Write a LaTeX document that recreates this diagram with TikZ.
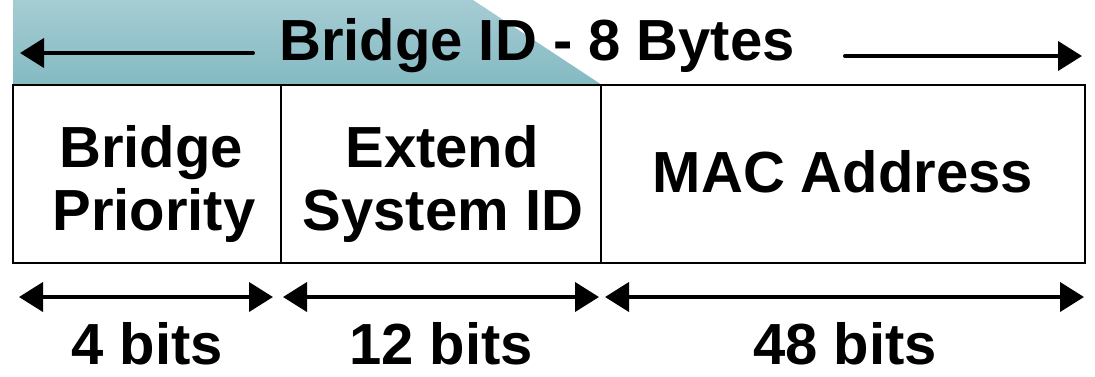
\documentclass[tikz,border=0pt]{standalone}
\usepackage{fontspec}
\setmainfont{Liberation Sans}
\usetikzlibrary{arrows.meta}
\definecolor{shadetop}{HTML}{A6CCD3}
\definecolor{shadebot}{HTML}{84BAC3}
\begin{document}
\begin{tikzpicture}[x=1pt,y=-1pt,
  cell/.style={draw=black,line width=2.6pt,minimum width=#1,minimum height=178pt,inner sep=0pt,outer sep=0pt},
  txt/.style={font=\fontsize{58}{63}\selectfont\bfseries,inner sep=0pt,anchor=base},
  dim/.style={line width=4pt,{Triangle[length=24pt,width=29pt]}-{Triangle[length=24pt,width=29pt]}},
  toparr/.style={line width=4pt,line cap=round,-{Triangle[length=24pt,width=29pt]}}]
\useasboundingbox (0,0) rectangle (1095,376);
% shaded header
\shade[top color=shadetop,bottom color=shadebot] (13,0) -- (473,0) -- (602,85) -- (13,85) -- cycle;
% title and top arrows
\node[txt] (title) at (537,60) {Bridge ID - 8 Bytes};
\coordinate (tl1) at (253,53);
\coordinate (tl2) at (20,53);
\coordinate (tr1) at (845,56);
\coordinate (tr2) at (1082,56);
\draw[toparr] (tl1) -- (tl2);
\draw[toparr] (tr1) -- (tr2);
% cells
\node[cell=268pt] (c1) at (147,174) {};
\node[cell=320pt] (c2) at (441,174) {};
\node[cell=484pt] (c3) at (843,174) {};
\node[txt] (t1a) at (151,167) {Bridge};
\node[txt] (t1b) at (154,230) {Priority};
\node[txt] (t2a) at (442,167) {Extend};
\node[txt] (t2b) at (443,230) {System ID};
\node[txt] (t3) at (843,192) {MAC Address};
% dimension arrows
\coordinate (d1l) at (19,297);
\coordinate (d1r) at (273,297);
\coordinate (d2l) at (283,297);
\coordinate (d2r) at (599,297);
\coordinate (d3l) at (605,297);
\coordinate (d3r) at (1084,297);
\draw[dim] (d1l) -- (d1r);
\draw[dim] (d2l) -- (d2r);
\draw[dim] (d3l) -- (d3r);
\node[txt] (b1) at (147,364) {4 bits};
\node[txt] (b2) at (441,364) {12 bits};
\node[txt] (b3) at (845,364) {48 bits};
\end{tikzpicture}
\end{document}
